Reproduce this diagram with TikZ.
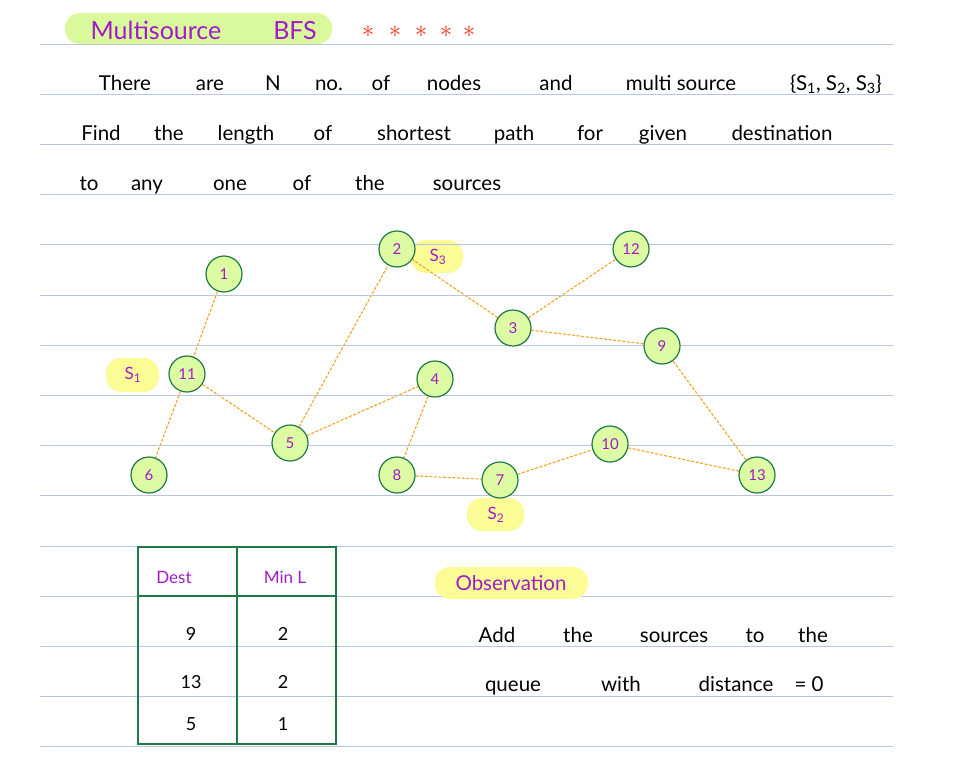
\documentclass[tikz,border=0pt]{standalone}
\usepackage{fontspec}
\setmainfont{Lato}
\usetikzlibrary{backgrounds}
\definecolor{ruleblue}{HTML}{B9C6DC}
\definecolor{nodefill}{HTML}{DCFBA3}
\definecolor{nodegreen}{HTML}{1E7A45}
\definecolor{penpurple}{HTML}{A11BC9}
\definecolor{linkorange}{HTML}{F5A21E}
\definecolor{hiyellow}{HTML}{FCFC96}
\definecolor{higreen}{HTML}{DAF89C}
\definecolor{starred}{HTML}{EE3418}

\begin{document}
\begin{tikzpicture}[x=1pt,y=-1pt,
        vertex/.style={circle,minimum size=36pt,inner sep=0pt,line width=1.2pt,draw=nodegreen,fill=nodefill,
          text=penpurple,font=\fontsize{15}{15}\selectfont},
        link/.style={draw=linkorange,line width=1.1pt,dash pattern=on 3pt off 1.6pt},
        hand/.style={anchor=base,font=\fontsize{20.5}{20.5}\selectfont},
        purplehand/.style={hand,text=penpurple},
        pill/.style={rounded corners=15pt}]

        \useasboundingbox (0,0) rectangle (957,771);

        % page rules
        \foreach \k in {0,...,14}
          \draw [ruleblue,line width=0.9pt] (40,44+50.2*\k) -- (893,44+50.2*\k);

        % heading
        \fill [higreen,pill] (65,13) rectangle (332,44);
        \node [purplehand,font=\fontsize{25}{25}\selectfont] (title) at (156,39) {Multisource};
        \node [purplehand,font=\fontsize{25}{25}\selectfont] (bfs)   at (295,39) {BFS};
        \foreach \x [count=\i] in {368,395,421,446,469}
          \node [text=starred,font=\fontsize{30}{30}\selectfont] (star\i) at (\x,32) {$\ast$};

        % problem statement
        \foreach \w/\x [count=\i] in {There/125,are/210,N/273,no./329,of/381,nodes/454,and/556,
            multi source/681,{\{S\textsubscript{1}, S\textsubscript{2}, S\textsubscript{3}\}}/836}
          \node [hand] (la\i) at (\x,90) {\w};
        \foreach \w/\x [count=\i] in {Find/101,the/169,length/246,of/323,shortest/414,path/514,
            for/590,given/663,destination/782}
          \node [hand] (lb\i) at (\x,140) {\w};
        \foreach \w/\x [count=\i] in {to/89,any/147,one/230,of/302,the/370,sources/467}
          \node [hand] (lc\i) at (\x,190) {\w};

        % graph
        \node [vertex] (1)  at (224,274) {1};
        \node [vertex] (2)  at (397,249) {2};
        \node [vertex] (3)  at (513,328) {3};
        \node [vertex] (4)  at (435,379) {4};
        \node [vertex] (5)  at (290,443) {5};
        \node [vertex] (6)  at (149,475) {6};
        \node [vertex] (7)  at (500,480) {7};
        \node [vertex] (8)  at (397,475) {8};
        \node [vertex] (9)  at (662,346) {9};
        \node [vertex] (10) at (610,444) {10};
        \node [vertex] (11) at (187,374) {11};
        \node [vertex] (12) at (631,249) {12};
        \node [vertex] (13) at (757,475) {13};

        \node [text=penpurple,font=\fontsize{17}{17}\selectfont] (s1) at (133,375) {S\textsubscript{1}};
        \node [text=penpurple,font=\fontsize{17}{17}\selectfont] (s2) at (496,515) {S\textsubscript{2}};
        \node [text=penpurple,font=\fontsize{17}{17}\selectfont] (s3) at (438,257) {S\textsubscript{3}};

        \begin{pgfonlayer}{background}
          \fill [hiyellow,pill] (106,358) rectangle (159,392);
          \fill [hiyellow,pill] (411,240) rectangle (463,273);
          \fill [hiyellow,pill] (467,498) rectangle (524,531);
          \path [link]
            (1) edge (11)
            (11) edge (6)
            (11) edge (5)
            (5) edge (2)
            (5) edge (4)
            (4) edge (8)
            (8) edge (7)
            (7) edge (10)
            (10) edge (13)
            (13) edge (9)
            (9) edge (3)
            (3) edge (12)
            (3) edge (2)
          ;
        \end{pgfonlayer}

        % table
        \draw [nodegreen,line width=1.3pt] (138,547) rectangle (336,744);
        \draw [nodegreen,line width=1.3pt] (237,547) -- (237,744);
        \draw [nodegreen,line width=1.3pt] (138,596) -- (336,596);
        \node [purplehand,font=\fontsize{17}{17}\selectfont] (dest) at (174,583) {Dest};
        \node [purplehand,font=\fontsize{17}{17}\selectfont] (minl) at (285,583) {Min L};
        \foreach \d/\m/\y [count=\i] in {9/2/640,13/2/688,5/1/730} {
          \node [hand,font=\fontsize{18}{18}\selectfont] (d\i) at (191,\y) {\d};
          \node [hand,font=\fontsize{18}{18}\selectfont] (m\i) at (283,\y) {\m};
        }

        % observation
        \fill [hiyellow,pill] (435,567) rectangle (588,599);
        \node [purplehand] (obs) at (511,590) {Observation};
        \foreach \w/\x [count=\i] in {Add/497,the/578,sources/674,to/755,the/813}
          \node [hand] (oa\i) at (\x,642) {\w};
        \foreach \w/\x [count=\i] in {queue/513,with/621,distance/736,= 0/809}
          \node [hand] (ob\i) at (\x,691) {\w};
      \end{tikzpicture}
\end{document}
